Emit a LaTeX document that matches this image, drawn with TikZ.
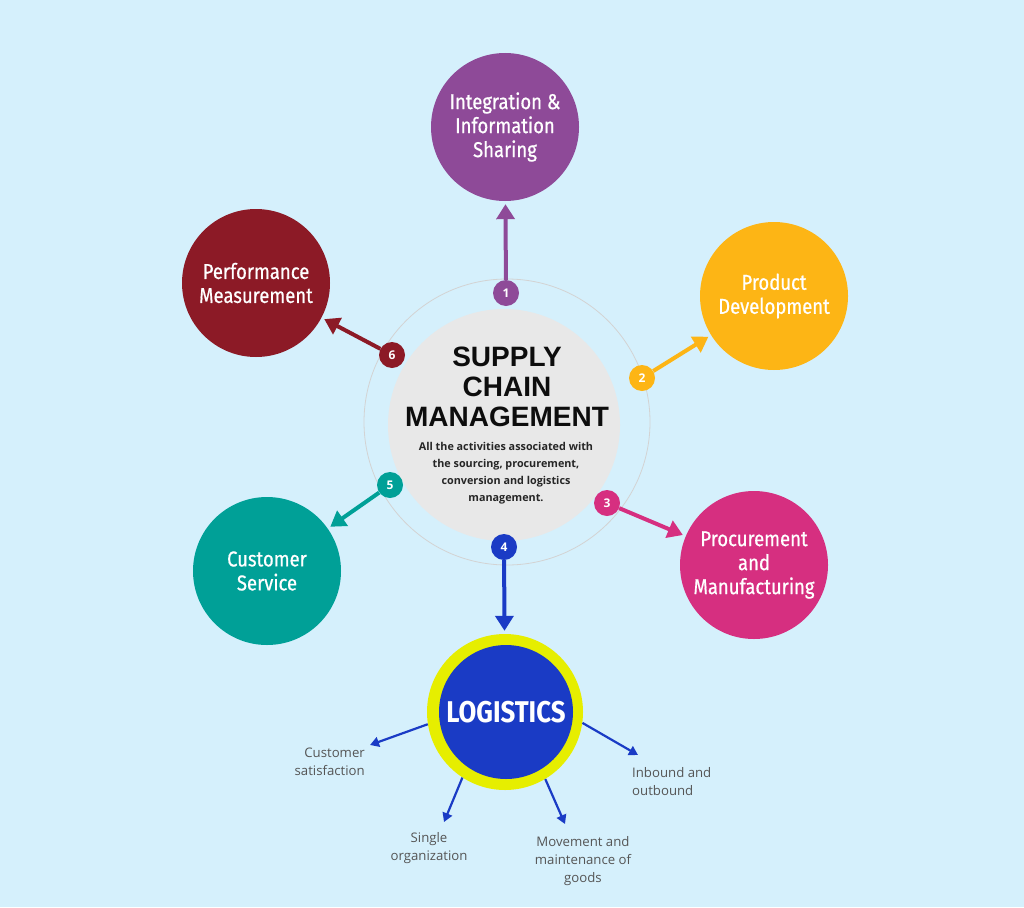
\documentclass[tikz,border=0pt]{standalone}
\usepackage{fontspec}
\setmainfont{Open Sans}
\newfontfamily\condf[FakeStretch=0.86,FakeBold=0.6]{Fira Sans}
\newfontfamily\logf[FakeStretch=0.86]{Fira Sans}
\newfontfamily\titlef{Liberation Sans}
\usetikzlibrary{arrows.meta}
\definecolor{bg}{HTML}{D5F0FC}
\definecolor{cpurple}{HTML}{8E4A98}
\definecolor{corange}{HTML}{FDB515}
\definecolor{cmagenta}{HTML}{D62F80}
\definecolor{cteal}{HTML}{00A097}
\definecolor{cdarkred}{HTML}{8C1A26}
\definecolor{cblue}{HTML}{1A3BC5}
\definecolor{cyellow}{HTML}{E6EE00}
\definecolor{cgray}{HTML}{E8E8E8}
\definecolor{cring}{HTML}{D3D3D3}
\definecolor{labgray}{HTML}{555555}
\begin{document}
\begin{tikzpicture}[x=1pt,y=-1pt,
  big/.style={circle, minimum size=148pt, inner sep=0pt, text=white, align=center,
    font=\condf\fontsize{21.5}{24}\selectfont},
  badge/.style={circle, minimum size=26pt, inner sep=0pt, text=white,
    font=\bfseries\fontsize{12}{12}\selectfont},
  arr/.style={line width=4pt, -{Triangle[width=18pt,length=15pt]}, shorten >=3pt},
  larr/.style={line width=2.2pt, draw=cblue, -{Triangle[width=10pt,length=9pt]}},
  lab/.style={text=labgray, font=\fontsize{13.2}{18}\selectfont, inner sep=0pt}
]
\fill[bg] (0,0) rectangle (1024,907);
\useasboundingbox (0,0) rectangle (1024,907);

% ring and centre
\node[circle, draw=cring, line width=0.8pt, minimum size=286pt, inner sep=0pt] (ring) at (507,422) {};
\node[circle, fill=cgray, minimum size=232pt, inner sep=0pt] (core) at (504,425) {};
\node[font=\titlef\bfseries\fontsize{28}{30}\selectfont, align=center, text=black!95] (title) at (507,387)
  {SUPPLY\\CHAIN\\MANAGEMENT};
\node[font=\bfseries\fontsize{10.8}{17}\selectfont, align=center, text=black!85] (sub) at (506,473)
  {All the activities associated with\\the sourcing, procurement,\\conversion and logistics\\management.};

% outer circles
\node[big, fill=cpurple] (c1) at (505,127) {Integration \&\\Information\\Sharing};
\node[big, fill=corange] (c2) at (774,296) {Product\\Development};
\node[big, fill=cmagenta] (c3) at (754,565) {Procurement\\and\\Manufacturing};
\node[circle, fill=cyellow, minimum size=156pt, inner sep=0pt] (c4) at (505,712) {};
\node[circle, fill=cblue, minimum size=134pt, inner sep=0pt, text=white,
  font=\logf\bfseries\fontsize{30}{30}\selectfont] (log) at (506,712) {LOGISTICS};
\node[big, fill=cteal] (c5) at (267,571) {Customer\\Service};
\node[big, fill=cdarkred] (c6) at (256,283) {Performance\\Measurement};

% badges
\node[badge, fill=cpurple] (b1) at (506,293) {1};
\node[badge, fill=corange] (b2) at (642,378) {2};
\node[badge, fill=cmagenta] (b3) at (607,503) {3};
\node[badge, fill=cblue] (b4) at (504,547) {4};
\node[badge, fill=cteal] (b5) at (390,485) {5};
\node[badge, fill=cdarkred] (b6) at (392,355) {6};

% arrows
\draw[arr, draw=cpurple, fill=cpurple] (b1) -- (c1);
\draw[arr, draw=corange, fill=corange] (b2) -- (c2);
\draw[arr, draw=cmagenta, fill=cmagenta] (b3) -- (c3);
\draw[arr, draw=cblue, fill=cblue] (b4) -- (c4);
\draw[arr, draw=cteal, fill=cteal] (b5) -- (c5);
\draw[arr, draw=cdarkred, fill=cdarkred] (b6) -- (c6);

% logistics labels
\coordinate (e1) at (370,745);
\coordinate (e2) at (444,822);
\coordinate (e3) at (565,824);
\coordinate (e4) at (638,755);
\draw[larr] (c4.189) -- (e1);
\draw[larr] (c4.237) -- (e2);
\draw[larr] (c4.301) -- (e3);
\draw[larr] (c4.352) -- (e4);
\node[lab, anchor=east, align=right] (l1) at (365,762) {Customer\\satisfaction};
\node[lab, align=center] (l2) at (429,848) {Single\\organization};
\node[lab, align=center] (l3) at (583,861) {Movement and\\maintenance of\\goods};
\node[lab, anchor=west, align=left] (l4) at (632,782) {Inbound and\\outbound};
\end{tikzpicture}
\end{document}
